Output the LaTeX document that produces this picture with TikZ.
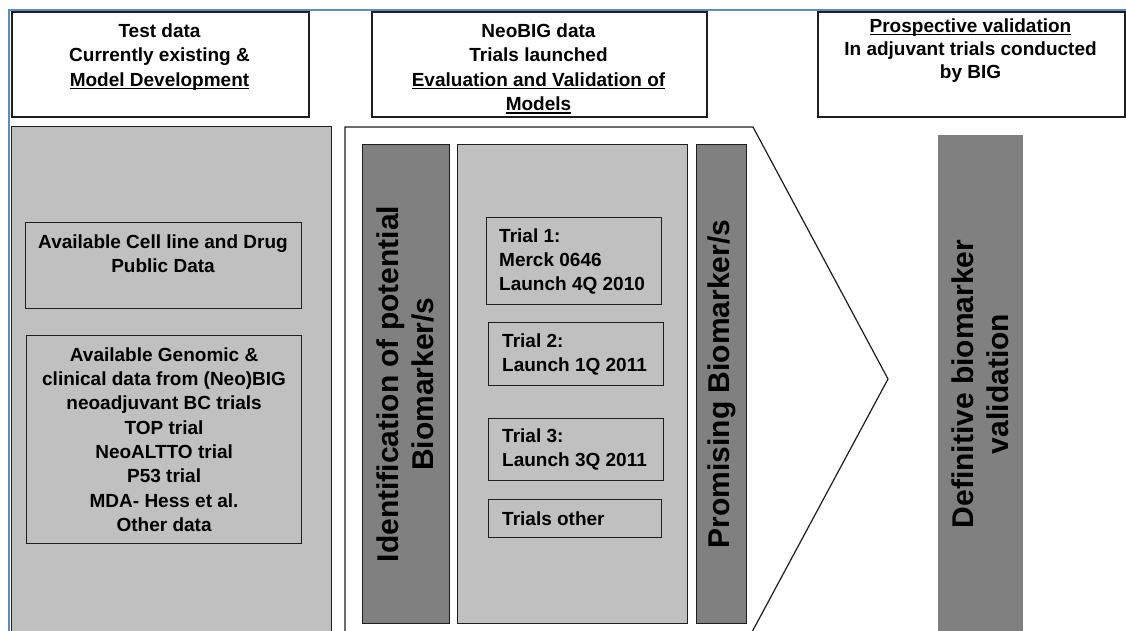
\documentclass[tikz,border=0pt]{standalone}
\usepackage{fontspec}
\setmainfont{Liberation Sans}
\newcommand{\ulx}[1]{\leavevmode\setbox0=\hbox{#1}\rlap{\rule[-3pt]{\wd0}{1.5pt}}\box0}
\definecolor{lg}{RGB}{192,192,192}
\definecolor{dg}{RGB}{128,128,128}
\definecolor{edge}{RGB}{30,30,30}
\definecolor{bl}{RGB}{92,138,198}
\begin{document}
\begin{tikzpicture}[x=1pt,y=-1pt,
  hdrbox/.style={draw=edge, line width=1.5pt, fill=white, inner sep=0, anchor=north west},
  hdrtxt/.style={font=\fontsize{19}{24.5}\selectfont\bfseries, align=center, inner sep=0, anchor=north},
  panel/.style={draw=edge, line width=1.2pt, fill=lg, inner sep=0, anchor=north west},
  darkbar/.style={draw=edge, line width=1.2pt, fill=dg, inner sep=0, anchor=north west},
  inbox/.style={draw=edge, line width=1.2pt, inner sep=0, anchor=north west},
  bodytxt/.style={font=\fontsize{19}{24.3}\selectfont\bfseries, align=center, inner sep=0},
  trialtxt/.style={font=\fontsize{19}{24}\selectfont\bfseries, align=left, inner sep=0, anchor=west},
  rottxt/.style={font=\fontsize{30}{35}\selectfont\bfseries, align=center, inner sep=0, rotate=90}]
\useasboundingbox (0,0) rectangle (1126,630);
\begin{scope}
\clip (0,0) rectangle (1126,630);
% blue frame lines
\draw[bl, line width=2pt] (9,640) -- (9,9.5) -- (1130,9.5);
% header boxes
\node[hdrbox, minimum width=297, minimum height=105] (h1) at (11,11) {};
\node[hdrbox, minimum width=335, minimum height=105] (h2) at (371,11) {};
\node[hdrbox, minimum width=307, minimum height=105] (h3) at (817,11) {};
\node[hdrtxt] (h1t) at (159.5,23.2) {Test data\\Currently existing \&\\\ulx{Model Development}};
\node[hdrtxt] (h2t) at (538.5,23.2) {NeoBIG data\\Trials launched\\\ulx{Evaluation and Validation of}\\\ulx{Models}};
\node[hdrtxt, font=\fontsize{19}{23.2}\selectfont\bfseries] (h3t) at (970.5,18.2) {\ulx{Prospective validation}\\In adjuvant trials conducted\\by BIG};
% left panel
\node[panel, minimum width=320, minimum height=530] (left) at (11,126) {};
\node[inbox, minimum width=276, minimum height=86] (cell) at (25,222) {};
\node[bodytxt, anchor=north] (cellt) at (163,234.2) {Available Cell line and Drug\\Public Data};
\node[inbox, minimum width=275, minimum height=208] (geno) at (26,335) {};
\node[bodytxt] (genot) at (geno.center) {Available Genomic \&\\clinical data from (Neo)BIG\\neoadjuvant BC trials\\TOP trial\\NeoALTTO trial\\P53 trial\\MDA- Hess et al.\\Other data};
% white chevron panel
\coordinate (ctl) at (345,127);
\coordinate (ctr) at (753,127);
\coordinate (tip) at (888,379);
\coordinate (cbr) at (745,645);
\coordinate (cbl) at (345,645);
\draw[edge, line width=1.2pt, fill=white] (cbl) -- (ctl) -- (ctr) -- (tip) -- (cbr);
% bars and middle panel
\node[darkbar, minimum width=87, minimum height=479] (ident) at (362,144) {};
\node[panel, minimum width=230, minimum height=479] (mid) at (457,144) {};
\node[darkbar, minimum width=50, minimum height=479] (prom) at (696,144) {};
\node[fill=dg, inner sep=0, anchor=north west, minimum width=85, minimum height=510] (defn) at (938,135) {};
\node[rottxt] (identt) at (405.5,384) {Identification of potential\\Biomarker/s};
\node[rottxt] (promt) at (722,384) {Promising Biomarker/s};
\node[rottxt] (defnt) at (980.5,384) {Definitive biomarker\\validation};
% trial boxes
\node[inbox, minimum width=175, minimum height=87] (t1) at (486,217) {};
\node[inbox, minimum width=175, minimum height=63] (t2) at (488,322) {};
\node[inbox, minimum width=175, minimum height=62] (t3) at (488,418) {};
\node[inbox, minimum width=173, minimum height=38] (t4) at (488,499) {};
\node[trialtxt] (t1t) at ([xshift=13pt]t1.west) {Trial 1:\\Merck 0646\\Launch 4Q 2010};
\node[trialtxt] (t2t) at ([xshift=14pt]t2.west) {Trial 2:\\Launch 1Q 2011};
\node[trialtxt] (t3t) at ([xshift=14pt]t3.west) {Trial 3:\\Launch 3Q 2011};
\node[trialtxt] (t4t) at ([xshift=14pt]t4.west) {Trials other};
\end{scope}
\end{tikzpicture}
\end{document}
